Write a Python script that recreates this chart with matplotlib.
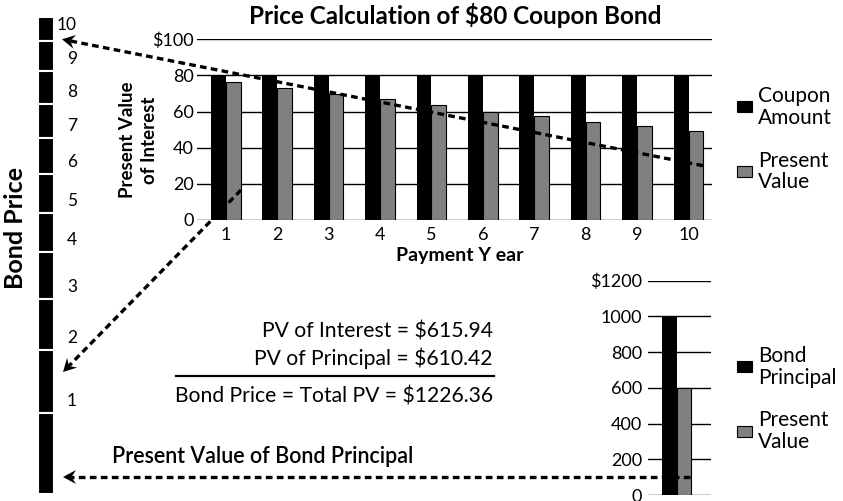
import matplotlib.pyplot as plt
import numpy as np
from matplotlib.patches import Rectangle, Polygon

plt.rcParams['font.family'] = ['Lato', 'DejaVu Sans']

# data
years = [str(i) for i in range(1, 11)]
coupon = [80] * 10
pv_coupon = [76.2, 73.2, 69.6, 66.8, 63.6, 60.0, 57.4, 54.4, 52.0, 49.4]
principal = [1000]
pv_principal = [600]
top_ticks = [0, 20, 40, 60, 80, 100]
top_ticklabels = ['0', '20', '40', '60', '80', '$100']
bot_ticks = [0, 200, 400, 600, 800, 1000, 1200]
bot_ticklabels = ['0', '200', '400', '600', '800', '1000', '$1200']
stack_sizes = [24, 29.7, 33.3, 34, 36, 39, 38.4, 47.6, 50.7, 62.7, 81.3]
stack_labels = ['10', '9', '8', '7', '6', '5', '4', '3', '2', '1', '']
summary_lines = ['PV of Interest = $615.94', 'PV of Principal = $610.42']
total_line = 'Bond Price = Total PV = $1226.36'

W, H = 843, 501
GRAY = '#808080'
fig = plt.figure(figsize=(W / 100, H / 100), dpi=100)


def px_axes(left, top, right, bottom, **kw):
    return fig.add_axes([left / W, 1 - bottom / H, (right - left) / W, (bottom - top) / H], **kw)


def style_grid_axes(ax, ticks, labels, pad):
    ax.set_yticks(ticks)
    ax.set_yticklabels(labels, fontsize=13)
    ax.yaxis.grid(True, color='black', linewidth=1)
    ax.set_axisbelow(True)
    ax.tick_params(axis='y', length=0, pad=pad)
    for s in ax.spines.values():
        s.set_visible(False)


# top chart: coupon payments
ax1 = px_axes(197, 39.3, 712, 220)
x = np.arange(len(years))
ax1.bar(x - 0.145, coupon, width=0.29, color='black')
ax1.bar(x + 0.1425, pv_coupon, width=0.285, color=GRAY, edgecolor='black', linewidth=0.8)
ax1.set_xlim(-0.562, 9.457)
ax1.set_ylim(0, 100)
style_grid_axes(ax1, top_ticks, top_ticklabels, 2.2)
ax1.set_xticks(x)
ax1.set_xticklabels(years, fontsize=13)
ax1.tick_params(axis='x', length=0, pad=5)

# bottom chart: principal
ax2 = px_axes(648, 280.7, 711, 495)
ax2.bar([-0.145], principal, width=0.29, color='black')
ax2.bar([0.1425], pv_principal, width=0.285, color=GRAY, edgecolor='black', linewidth=0.8)
ax2.set_xlim(-0.558, 0.667)
ax2.set_ylim(0, 1200)
style_grid_axes(ax2, bot_ticks, bot_ticklabels, 4.3)
ax2.set_xticks([])

# left stack: bond price pieces
ax3 = px_axes(30, 17.3, 62, 494)
bottoms = np.concatenate([[0], np.cumsum(stack_sizes)[:-1]])
ax3.bar([0] * len(stack_sizes), stack_sizes, bottom=bottoms, width=0.5,
        color='black', edgecolor='white', linewidth=1.5)
ax3.set_xlim(-0.5, 0.5)
ax3.set_ylim(sum(stack_sizes), 0)
ax3.axis('off')

# overlay in pixel coords for text and arrows
ax0 = fig.add_axes([0, 0, 1, 1], zorder=5)
ax0.set_xlim(0, W)
ax0.set_ylim(H, 0)
ax0.patch.set_alpha(0)
ax0.axis('off')

for lab, b, s in zip(stack_labels, bottoms, stack_sizes):
    if not lab:
        continue
    y = 17.3 + b + (8 if lab == '10' else s - 12)
    ax0.text(77, y, lab, fontsize=12.5, ha='right', va='center')

ax0.text(16, 228, 'Bond Price', rotation=90, fontsize=18, fontweight='bold',
         ha='center', va='center')
ax0.text(455, 15, 'Price Calculation of $80 Coupon Bond', fontsize=17.5,
         fontweight='bold', ha='center', va='center')
ax0.text(138.5, 140, 'Present Value\nof Interest', rotation=90, fontsize=13.5,
         fontweight='bold', ha='center', va='center', multialignment='center',
         linespacing=1.4)
ax0.text(460, 255, 'Payment Y ear', fontsize=14, fontweight='bold',
         ha='center', va='center')

# legends
def legend_item(y, color, label):
    ax0.add_patch(Rectangle((736.7, y - 5.3), 15, 10.6, facecolor=color,
                            edgecolor='black', linewidth=0.8))
    ax0.text(758, y, label, fontsize=15, ha='left', va='center', linespacing=1.1)

legend_item(106.7, 'black', 'Coupon\nAmount')
legend_item(171.3, GRAY, 'Present\nValue')
legend_item(366.7, 'black', 'Bond\nPrincipal')
legend_item(431.3, GRAY, 'Present\nValue')

# summary text
ax0.text(492.7, 331.7, summary_lines[0], fontsize=15.2, ha='right', va='center')
ax0.text(492.7, 358.3, summary_lines[1], fontsize=15.2, ha='right', va='center')
ax0.plot([176, 494], [376, 376], color='black', linewidth=1.6)
ax0.text(492.7, 396.7, total_line, fontsize=15.2, ha='right', va='center')
ax0.text(111.7, 456.7, 'Present Value of Bond Principal', fontsize=15.5,
         fontweight='semibold', ha='left', va='center')


# dashed arrows
def dashed_arrow(tail, tip, hl=13, hw=7):
    tail = np.array(tail, float)
    tip = np.array(tip, float)
    d = (tail - tip) / np.linalg.norm(tail - tip)
    n = np.array([-d[1], d[0]])
    notch = tip + d * hl * 0.65
    ax0.plot([tail[0], notch[0]], [tail[1], notch[1]], color='black',
             linewidth=2.4, linestyle=(0, (2, 1.3)))
    head = [tip, tip + d * hl + n * hw, notch, tip + d * hl - n * hw]
    ax0.add_patch(Polygon(head, closed=True, facecolor='black', edgecolor='none'))

dashed_arrow((703, 165.7), (62, 39.3))
dashed_arrow((241, 190), (63, 372))
dashed_arrow((690, 477), (63, 477))

fig.savefig('out.png', dpi=100)
